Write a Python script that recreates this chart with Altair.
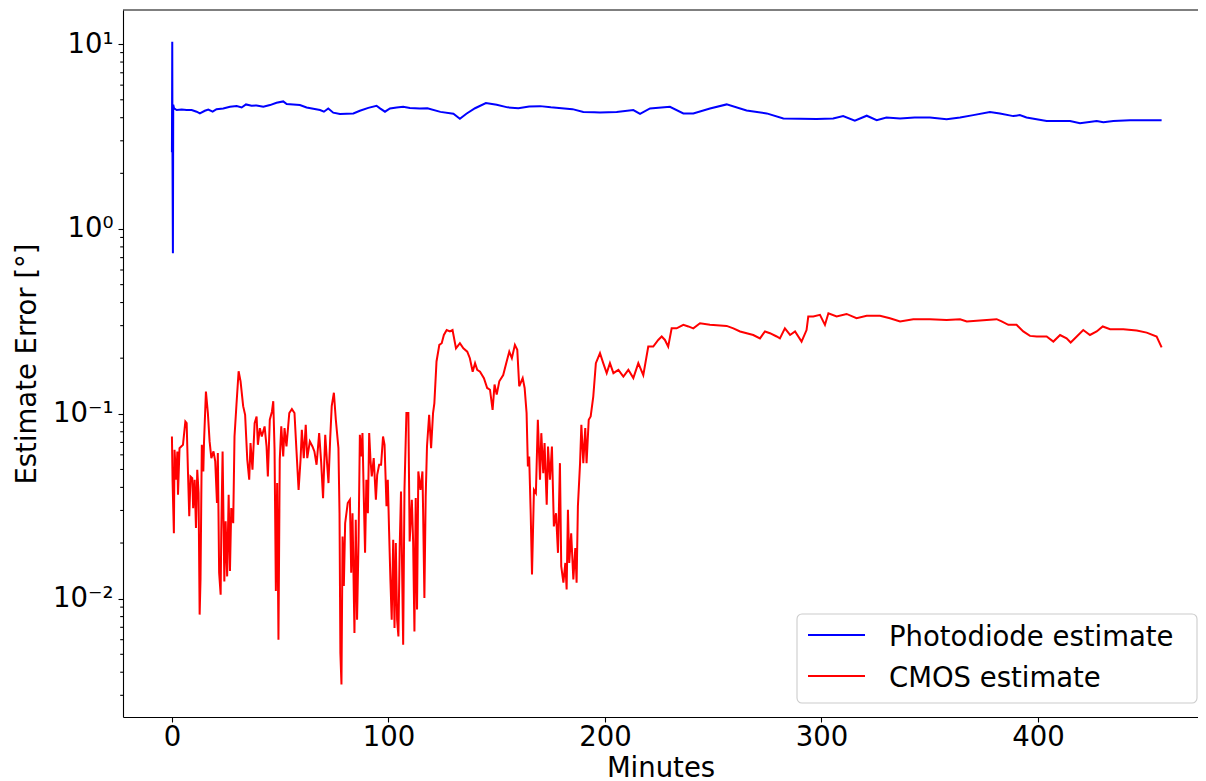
import altair as alt
import pandas as pd

# ---------------- data ----------------
photo_minutes = [0.0, 0.15, 0.25, 0.45, 0.6, 1.0, 2.2, 4.5, 6.8, 9.1, 11.4, 12.9, 15.2, 16.8, 18.8, 20.6,
                 23.7, 26.8, 29.9, 32.2, 34.2, 36.8, 39.1, 42.2, 45.3, 48.3, 51.4, 53.0, 56.0, 59.1, 62.2,
                 65.3, 68.4, 70.2, 72.2, 74.5, 77.6, 83.8, 86.8, 90.7, 94.5, 96.1, 98.4, 100.7, 103.8,
                 106.8, 109.9, 114.5, 118, 124, 130, 133, 136, 140, 145, 150, 155, 160, 165, 170, 175,
                 180, 185, 190, 195, 197.7, 205.4, 213.1, 216.2, 220.8, 230.0, 236.2, 240.8, 248.5,
                 256.2, 265.4, 274.7, 282.4, 297.7, 305.4, 310, 315.4, 320.9, 325.5, 330, 336.3, 343,
                 350.1, 357.8, 364.0, 370.1, 377.8, 382.4, 388.6, 391.6, 394.7, 404.0, 414.8, 419.4,
                 427.1, 430.2, 434.8, 442.5, 450.2, 457.1]
photo_error = [2.6, 10.3, 2.6, 0.74, 4.7, 4.49, 4.40, 4.43, 4.40, 4.40, 4.31, 4.22, 4.36, 4.43, 4.31, 4.45,
               4.49, 4.58, 4.62, 4.54, 4.72, 4.64, 4.66, 4.58, 4.68, 4.82, 4.90, 4.74, 4.72, 4.68, 4.54,
               4.47, 4.40, 4.31, 4.49, 4.26, 4.19, 4.22, 4.36, 4.52, 4.64, 4.49, 4.31, 4.49, 4.54,
               4.58, 4.51, 4.49, 4.5, 4.3, 4.2, 3.95, 4.2, 4.5, 4.8, 4.7, 4.55, 4.5, 4.6, 4.62, 4.55,
               4.5, 4.45, 4.3, 4.28, 4.27, 4.30, 4.40, 4.19, 4.49, 4.58, 4.22, 4.22, 4.49,
               4.72, 4.38, 4.22, 3.96, 3.93, 3.96, 4.08, 3.85, 4.10, 3.88, 4.01, 3.96, 4.01,
               4.01, 3.92, 4.01, 4.13, 4.29, 4.22, 4.08, 4.13, 4.01, 3.84, 3.84, 3.73,
               3.84, 3.78, 3.84, 3.87, 3.88, 3.87]

cmos_minutes = [0.0, 0.3, 0.9, 1.2, 2.0, 2.5, 2.8, 3.5, 5.1, 6.2, 6.8, 7.4, 8.0, 8.6, 9.4, 9.8, 10.5, 11.1,
                11.7, 12.3, 12.8, 13.2, 13.8, 14.5, 14.8, 15.7, 16.6, 17.4, 18.2, 19.2, 20.0, 20.8, 21.2,
                21.8, 22.5, 22.8, 23.4, 24.2, 24.8, 25.5, 26.2, 26.8, 27.4, 28.3, 28.9, 29.8, 30.8, 31.7,
                32.9, 33.8, 34.8, 35.7, 36.3, 37.2, 38.2, 39.1, 39.7, 40.6, 41.5, 42.8, 43.7, 44.3, 45.2,
                46.2, 46.8, 47.4, 48.0, 48.6, 49.2, 49.8, 50.5, 51.4, 52.0, 52.9, 54.2, 55.4, 56.6, 57.5,
                58.5, 59.4, 60.0, 60.9, 61.8, 62.5, 63.7, 64.9, 65.8, 66.8, 68.0, 68.9, 69.8, 70.8, 71.7,
                72.3, 73.1, 73.8, 74.8, 75.7, 76.9, 77.4, 77.8, 78.3, 78.8, 79.4, 80.0, 81.2, 82.2, 82.8,
                83.4, 84.3, 84.9, 85.5, 86.2, 86.8, 87.4, 88.0, 88.6, 89.2, 89.8, 90.5, 91.1, 91.7, 92.3,
                93.2, 94.2, 94.8, 95.7, 96.6, 97.5, 98.2, 99.1, 99.7, 100.3, 100.9, 101.5, 102.2, 102.8,
                103.4, 104.0, 104.6, 105.2, 105.8, 106.8, 107.4, 108.3, 109.2, 109.8, 110.8, 111.4, 112.0,
                112.6, 113.2, 113.8, 114.8, 115.7, 116.0, 116.6, 117.2, 117.8, 118.8, 119.7, 120.6, 121.2,
                122.2, 123.5, 124.6, 125.6, 126.9, 128.4, 129.6, 131.2, 133.0, 134.6, 136.4, 137.6, 138.9,
                140.0, 141.0, 142.3, 144.1, 145.6, 146.9, 148.1, 149.0, 150.0, 151.2, 153.0, 154.6, 155.8,
                157.0, 158.4, 159.5, 160.4, 162.0, 162.9, 163.8, 164.4, 165.0, 165.7, 166.3, 167.2, 168.1,
                169.0, 170.0, 170.6, 171.5, 172.1, 173.1, 173.7, 174.6, 175.5, 176.4, 177.4, 178.3, 179.2,
                179.8, 180.8, 181.7, 182.3, 182.9, 183.5, 184.4, 185.4, 186.3, 186.9, 187.5, 188.5, 189.1,
                190.0, 190.9, 191.5, 192.5, 193.4, 194.6, 195.8, 197.7, 199.2, 200.8, 202.3, 203.9, 206.2,
                208.5, 210.8, 213.1, 215.4, 217.7, 220.0, 222.3, 224.6, 226.2, 227.7, 229.2, 230.8, 233.1,
                236.2, 238.5, 240.8, 243.9, 248.5, 256.2, 259.3, 262.4, 268.5, 271.6, 273.9, 276.2, 279.3,
                280.8, 283.1, 285.5, 287.8, 290.8, 293.1, 293.9, 296.2, 299.3, 301.6, 303.2, 307.0, 311.6,
                316.2, 320.9, 327.0, 331.6, 336.3, 342.4, 350.1, 357.8, 364.0, 367.1, 373.2, 380.9, 383.2,
                386.3, 390.1, 393.2, 396.3, 399.4, 404.0, 407.1, 410.2, 413.2, 415.1, 417.9, 420.9, 424.0,
                427.1, 429.9, 433.3, 439.4, 445.6, 450.2, 454.8, 457.1]
cmos_error = [0.0754, 0.0431, 0.0226, 0.0639, 0.0440, 0.0626, 0.0365, 0.0652, 0.0680, 0.0909, 0.0891,
              0.0488, 0.0279, 0.0458, 0.0449, 0.0309, 0.0440, 0.0241, 0.0498, 0.0373, 0.0082, 0.0127,
              0.0680, 0.0488, 0.0694, 0.132, 0.101, 0.0709, 0.0576, 0.0626, 0.0553, 0.0329, 0.0613,
              0.0138, 0.0105, 0.0236, 0.0626, 0.0124, 0.0262, 0.0132, 0.0365, 0.0141, 0.0309, 0.0256,
              0.0754, 0.112, 0.17, 0.15, 0.110, 0.0988, 0.0564, 0.0440, 0.0694, 0.0498, 0.0891, 0.0968,
              0.0680, 0.0837, 0.0754, 0.0855, 0.0666, 0.0458, 0.0929, 0.103, 0.117, 0.0639, 0.0110,
              0.0422, 0.0060, 0.0564, 0.0855, 0.0588, 0.0837, 0.0666, 0.101, 0.106, 0.101, 0.0639,
              0.0388, 0.0564, 0.0820, 0.0576, 0.0873, 0.0576, 0.0709, 0.0666, 0.0626, 0.0530, 0.0787,
              0.0553, 0.0350, 0.0771, 0.0530, 0.0422, 0.0739, 0.110, 0.13, 0.0929, 0.0652, 0.0290,
              0.00508, 0.00343, 0.0217, 0.0117, 0.0256, 0.0329, 0.0343, 0.0138, 0.0290, 0.00652, 0.0267,
              0.00769, 0.0208, 0.0771, 0.0588, 0.0787, 0.0357, 0.0177, 0.0440, 0.0290, 0.0787, 0.0564,
              0.0458, 0.0576, 0.0343, 0.0468, 0.0530, 0.0530, 0.0754, 0.0680, 0.0316, 0.0440, 0.0231,
              0.0127, 0.00769, 0.0208, 0.00694, 0.0200, 0.00769, 0.00625, 0.0192, 0.0380, 0.00564,
              0.0388, 0.101, 0.101, 0.0204, 0.0343, 0.0204, 0.00665, 0.0350, 0.00873, 0.0488, 0.0388,
              0.0488, 0.0303, 0.0101, 0.0357, 0.0666, 0.0988, 0.0652, 0.101, 0.114,
              0.192, 0.236, 0.241, 0.267, 0.284, 0.279, 0.284, 0.226, 0.241, 0.226, 0.217, 0.200, 0.169,
              0.188, 0.173, 0.169, 0.156, 0.138, 0.135, 0.105, 0.144, 0.127, 0.150, 0.162, 0.192, 0.217,
              0.200, 0.236, 0.222, 0.141, 0.156, 0.138, 0.101, 0.0519, 0.0588, 0.0290, 0.0135, 0.0388,
              0.0373, 0.0929, 0.0440, 0.0786, 0.0478, 0.0694, 0.0322, 0.0666, 0.0440, 0.0666, 0.0246,
              0.0290, 0.0177, 0.0541, 0.0150, 0.0122, 0.0156, 0.0112, 0.0303, 0.0156, 0.0226, 0.0127,
              0.0188, 0.0122, 0.0316, 0.0541, 0.0873, 0.0541, 0.0837, 0.0541, 0.0929, 0.0968, 0.124,
              0.188, 0.213, 0.188, 0.166, 0.188, 0.166, 0.173, 0.159, 0.173, 0.156, 0.188, 0.162, 0.231,
              0.231, 0.251, 0.262, 0.251, 0.231, 0.290, 0.290, 0.303, 0.297, 0.290, 0.309, 0.303, 0.299,
              0.290, 0.279, 0.267, 0.256, 0.279, 0.273, 0.262,
              0.256, 0.290, 0.267, 0.279, 0.246, 0.284, 0.336, 0.336, 0.343, 0.303, 0.350, 0.336, 0.347,
              0.329, 0.339, 0.339, 0.329, 0.316, 0.325, 0.325, 0.322, 0.325, 0.316, 0.320, 0.325, 0.316,
              0.303, 0.303, 0.279, 0.264, 0.262, 0.262, 0.246, 0.267, 0.256, 0.243, 0.262, 0.284, 0.267,
              0.279, 0.297, 0.287, 0.287, 0.282, 0.275, 0.262, 0.229]

series_names = ["Photodiode estimate", "CMOS estimate"]
series_colors = ["#0000ff", "#ff0000"]
major_ticks = [0.01, 0.1, 1, 10]
minor_ticks = [0.003, 0.004, 0.005, 0.006, 0.007, 0.008, 0.009,
               0.02, 0.03, 0.04, 0.05, 0.06, 0.07, 0.08, 0.09,
               0.2, 0.3, 0.4, 0.5, 0.6, 0.7, 0.8, 0.9,
               2, 3, 4, 5, 6, 7, 8, 9]
x_ticks = [0, 100, 200, 300, 400]

# ---------------- layout ----------------
W, H = 1075, 707
FONT = "DejaVu Sans"
FS = 27.5

photo_df = pd.DataFrame({"Minutes": photo_minutes, "Error": photo_error})
cmos_df = pd.DataFrame({"Minutes": cmos_minutes, "Error": cmos_error})
minor_df = pd.DataFrame({"v": minor_ticks})
one = pd.DataFrame({"k": [0]})

xscale = alt.Scale(domain=[-22.6, 473.9], nice=False, zero=False)
yscale = alt.Scale(type="log", domain=[0.00229, 15.3], nice=False)

xaxis = alt.Axis(values=x_ticks, title="Minutes", grid=False, tickSize=5, tickWidth=1.1,
                 tickColor="black", domainColor="black", domainWidth=1.1,
                 labelFontSize=FS, labelFont=FONT, labelColor="black", labelPadding=1,
                 titleFontSize=FS, titleFont=FONT, titleColor="black", titleFontWeight="normal",
                 titleBaseline="alphabetic", titleY=59, labelFlush=False, labelOverlap=False)
yaxis = alt.Axis(values=major_ticks, title="Estimate Error [°]", grid=False, tickSize=5,
                 tickWidth=1.1, tickColor="black", domainColor="black", domainWidth=1.1,
                 labelFontSize=FS, labelFont=FONT, labelColor="black", labelPadding=5,
                 labelExpr="datum.value >= 5 ? '10¹' : datum.value >= 0.5 ? '10⁰' : datum.value >= 0.05 ? '10⁻¹' : '10⁻²'",
                 titleFontSize=FS, titleFont=FONT, titleColor="black", titleFontWeight="normal",
                 titleBaseline="alphabetic", titleAngle=270, titleX=-88, titleY=H / 2,
                 titleAlign="center", labelFlush=False, labelOverlap=False, labelBaseline="middle")

photo = alt.Chart(photo_df).mark_line(color=series_colors[0], strokeWidth=2).encode(
    x=alt.X("Minutes:Q", scale=xscale, axis=xaxis),
    y=alt.Y("Error:Q", scale=yscale, axis=yaxis),
    order="Minutes:Q",
)
cmos = alt.Chart(cmos_df).mark_line(color=series_colors[1], strokeWidth=2).encode(
    x=alt.X("Minutes:Q", scale=xscale),
    y=alt.Y("Error:Q", scale=yscale),
    order="Minutes:Q",
)
minor = alt.Chart(minor_df).mark_rule(color="black", strokeWidth=1.1).encode(
    y=alt.Y("v:Q", scale=yscale),
    x=alt.value(0), x2=alt.value(-2.8),
)
top_spine = alt.Chart(one).mark_rule(color="black", strokeWidth=1.1).encode(
    x=alt.value(0), x2=alt.value(W), y=alt.value(0)
)

# legend (drawn box, handles and labels)
leg_box = alt.Chart(one).mark_rect(fill="white", fillOpacity=0.8, stroke="#cccccc",
                                   strokeWidth=1.1, cornerRadius=5).encode(
    x=alt.value(674), x2=alt.value(1074), y=alt.value(604), y2=alt.value(693)
)
leg_layers = []
for i, (name, col) in enumerate(zip(series_names, series_colors)):
    yy = 625 + 41 * i
    leg_layers.append(alt.Chart(one).mark_rule(color=col, strokeWidth=2).encode(
        x=alt.value(685), x2=alt.value(742), y=alt.value(yy)))
    leg_layers.append(alt.Chart(one).mark_text(text=name, font=FONT, fontSize=FS, color="black",
                                               align="left", baseline="alphabetic").encode(
        x=alt.value(766), y=alt.value(yy + 11)))

chart = alt.layer(photo, cmos, minor, top_spine, leg_box, *leg_layers).properties(
    width=W, height=H,
    autosize=alt.AutoSizeParams(type="none"),
    padding={"left": 115, "top": 2, "right": 0, "bottom": 70},
    background="white",
).configure_view(strokeWidth=0)

chart.save("out.html", embed_options={"renderer": "svg", "actions": False})
